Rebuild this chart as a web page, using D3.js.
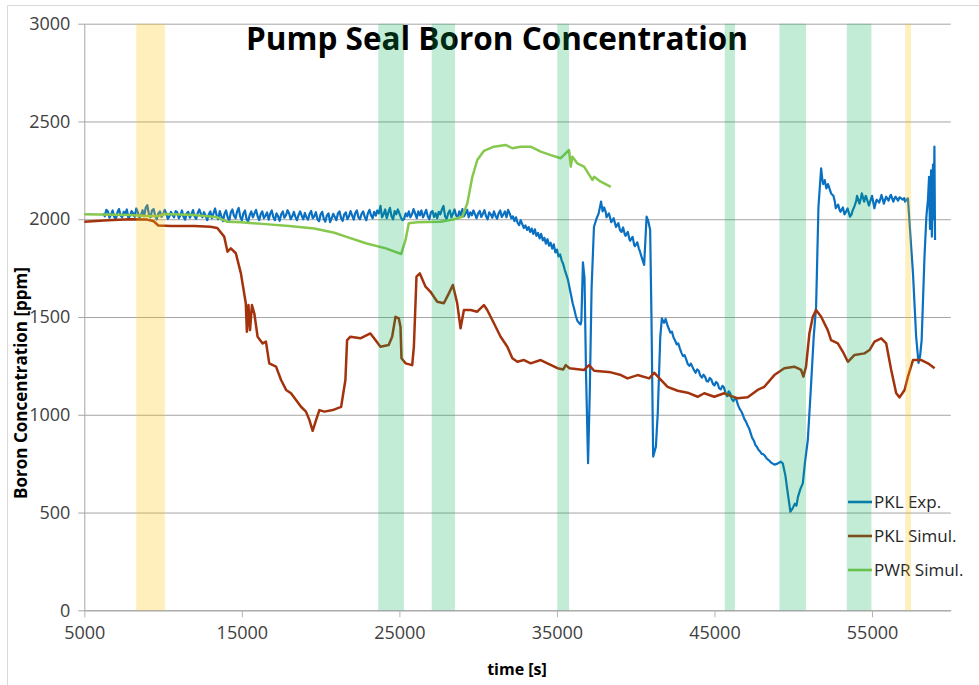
<!DOCTYPE html>
<html>
<head>
<meta charset="utf-8">
<script src="https://cdn.jsdelivr.net/npm/d3@7"></script>
<style>
  html, body { margin: 0; padding: 0; background: #fff; }
  svg { display: block; font-family: "Open Sans", "Liberation Sans", sans-serif; }
</style>
</head>
<body>
<svg id="chart" width="979" height="685"></svg>
<script>
// ---- data ----------------------------------------------------------------
const xTicks = [5000, 15000, 25000, 35000, 45000, 55000];
const yTicks = [0, 500, 1000, 1500, 2000, 2500, 3000];
const seriesNames = ["PKL Exp.", "PKL Simul.", "PWR Simul."];
const seriesColors = ["#0a70c2", "#a2330c", "#86c84e"];

// measurement phases shaded in the background [start, end, kind]
const phaseStart = [8300, 23660, 27050, 35020, 45650, 49120, 53400, 57110];
const phaseEnd   = [10120, 25290, 28530, 35770, 46300, 50810, 54960, 57480];
const phaseKind  = ["y", "g", "g", "g", "g", "g", "g", "y"];

// PKL experiment, pump seal boron concentration [time s, ppm]
const pklExp = [
  [6200,2030],[6300,2015],[6400,2048],[6500,2040],[6600,2008],[6700,2025],[6800,2045],[6900,2012],
  [7000,2000],[7100,2035],[7200,2052],[7300,2020],[7400,2010],[7500,2038],[7600,2028],[7700,2050],
  [7800,2005],[7900,2018],[8000,2042],[8100,2030],[8200,2012],[8300,2055],[8400,2035],[8500,2008],
  [8600,2022],[8700,2046],[8800,2015],[8900,2060],[9000,2072],[9100,2025],[9200,2010],[9300,2045],
  [9400,2052],[9500,2018],[9600,2000],[9700,2030],[9800,2040],[9900,2012],[10000,2025],[10100,2048],
  [10200,2030],[10300,2002],[10400,2015],[10500,2038],[10600,2022],[10700,2010],[10800,2042],[10900,2035],
  [11000,2005],[11100,2020],[11200,2045],[11300,2012],[11400,1998],[11500,2030],[11600,2038],[11700,2008],
  [11800,2025],[11900,2047],[12000,2015],[12100,2002],[12200,2032],[12300,2050],[12400,2028],[12500,2010],
  [12600,2036],[12700,2018],[12800,1995],[12900,2025],[13000,2040],[13100,2005],[13200,2030],[13300,2055],
  [13400,2020],[13500,2000],[13600,2042],[13700,2015],[13800,1990],[13900,2028],[14000,2045],[14100,2010],
  [14200,1992],[14300,2035],[14400,2050],[14500,2018],[14600,2005],[14700,2040],[14800,2058],[14900,2012],
  [15000,1995],[15100,2030],[15200,2045],[15300,2000],[15400,1988],[15500,2022],[15600,2040],[15700,2010],
  [15800,2030],[15900,2048],[16000,2015],[16100,1996],[16200,2026],[16300,2040],[16400,2005],[16500,2018],
  [16600,2035],[16700,1998],[16800,2028],[16900,2045],[17000,2010],[17100,1995],[17200,2030],[17300,2015],
  [17400,1992],[17500,2025],[17600,2040],[17700,2008],[17800,2020],[17900,2046],[18000,2030],[18100,2000],
  [18200,2015],[18300,2038],[18400,2012],[18500,1995],[18600,2022],[18700,2040],[18800,2018],[18900,2000],
  [19000,2032],[19100,2010],[19200,1998],[19300,2028],[19400,2042],[19500,2005],[19600,2015],[19700,2036],
  [19800,2000],[19900,1990],[20000,2025],[20100,2038],[20200,2002],[20300,1988],[20400,2020],[20500,2030],
  [20600,1985],[20700,2005],[20800,2028],[20900,2012],[21000,1995],[21100,2030],[21200,2040],[21300,2005],
  [21400,1992],[21500,2025],[21600,2035],[21700,2000],[21800,2015],[21900,2042],[22000,2020],[22100,1998],
  [22200,2032],[22300,2045],[22400,2010],[22500,2000],[22600,2028],[22700,2040],[22800,2012],[22900,1995],
  [23000,2030],[23100,2048],[23200,2020],[23300,2005],[23400,2038],[23500,2018],[23600,2045],[23700,2030],
  [23800,2068],[23900,2010],[24000,2025],[24100,2050],[24200,2005],[24300,2035],[24400,2058],[24500,2015],
  [24600,2000],[24700,2042],[24800,2025],[24900,2050],[25000,2030],[25100,2008],[25200,1995],[25300,2002],
  [25400,2030],[25500,2015],[25600,2040],[25700,2010],[25800,2025],[25900,2052],[26000,2030],[26100,2005],
  [26200,2040],[26300,2020],[26400,2045],[26500,2010],[26600,2028],[26700,2048],[26800,2015],[26900,2000],
  [27000,2035],[27100,2042],[27200,2012],[27300,2030],[27400,2005],[27500,2038],[27600,2025],[27700,2050],
  [27800,2068],[27900,2015],[28000,2000],[28100,2032],[28200,2045],[28300,2010],[28400,2028],[28500,2050],
  [28600,2020],[28700,2005],[28800,2040],[28900,2022],[29000,2052],[29100,2015],[29200,2030],[29300,2048],
  [29400,2010],[29500,2035],[29600,2020],[29700,2045],[29800,2025],[29900,2005],[30000,2030],[30100,2042],
  [30200,2012],[30300,2028],[30400,2046],[30500,2015],[30600,2000],[30700,2035],[30800,2025],[30900,2008],
  [31000,2040],[31100,2018],[31200,2002],[31300,2030],[31400,2045],[31500,2012],[31600,2025],[31700,2040],
  [31800,2010],[31900,2048],[32000,2030],[32100,2005],[32200,2015],[32300,1990],[32400,2010],[32500,1982],
  [32600,1970],[32700,1995],[32800,1975],[32900,1955],[33000,1968],[33100,1945],[33200,1960],[33300,1935],
  [33400,1952],[33500,1925],[33600,1948],[33700,1915],[33800,1930],[33900,1902],[34000,1925],[34100,1892],
  [34200,1905],[34300,1875],[34400,1898],[34500,1865],[34600,1880],[34700,1850],[34800,1872],[34900,1830],
  [35000,1845],[35100,1810],[35200,1820],[35300,1790],[35400,1770],[35500,1740],[35600,1715],[35700,1690],
  [35800,1650],[35900,1610],[36000,1570],[36100,1540],[36200,1505],[36300,1480],[36400,1470],[36500,1462],
  [36550,1480],[36650,1780],[36750,1700],[36850,1200],[36976,752],[37080,1100],[37200,1650],[37350,1960],
  [37500,2000],[37650,2030],[37800,2090],[37900,2040],[38000,2060],[38100,2035],[38150,2010],[38300,2030],
  [38400,2000],[38450,1985],[38600,2005],[38700,1975],[38750,1960],[38900,1980],[39000,1945],[39100,1935],
  [39200,1958],[39300,1925],[39350,1915],[39500,1935],[39600,1898],[39650,1890],[39800,1910],[39900,1870],
  [39950,1862],[40100,1882],[40200,1850],[40250,1840],[40400,1800],[40535,1766],[40690,2013],[40800,1990],
  [40917,1945],[41000,1500],[41108,786],[41280,837],[41400,1009],[41560,1400],[41660,1493],[41800,1470],
  [41900,1490],[42022,1455],[42100,1440],[42200,1420],[42300,1425],[42400,1395],[42500,1380],[42600,1360],
  [42700,1365],[42800,1340],[42900,1318],[43000,1300],[43100,1305],[43200,1285],[43300,1260],[43400,1250],
  [43500,1262],[43600,1245],[43700,1228],[43800,1215],[43900,1232],[44000,1225],[44100,1200],[44200,1190],
  [44300,1205],[44400,1195],[44500,1172],[44600,1170],[44700,1188],[44800,1180],[44900,1158],[45000,1150],
  [45100,1168],[45200,1160],[45300,1135],[45400,1130],[45500,1148],[45600,1140],[45700,1112],[45800,1095],
  [45900,1120],[46000,1110],[46100,1080],[46200,1070],[46300,1085],[46400,1075],[46500,1048],[46600,1030],
  [46700,1018],[46800,1000],[46900,978],[47000,965],[47100,945],[47200,930],[47300,905],[47400,880],
  [47500,868],[47600,845],[47700,835],[47800,820],[47900,812],[48000,800],[48100,798],[48200,790],
  [48300,778],[48400,770],[48500,764],[48600,755],[48700,750],[48800,745],[49000,750],[49200,760],
  [49333,752],[49500,690],[49650,600],[49818,504],[49950,520],[50100,545],[50200,535],[50300,580],
  [50450,620],[50605,649],[50750,760],[50924,871],[51100,1110],[51300,1400],[51450,1553],[51600,2064],
  [51770,2260],[51850,2200],[51900,2180],[52000,2200],[52100,2158],[52200,2180],[52250,2170],[52400,2132],
  [52550,2120],[52650,2085],[52700,2056],[52850,2075],[52950,2045],[53000,2038],[53150,2060],[53250,2025],
  [53300,2030],[53450,2055],[53600,2013],[53700,2025],[53750,2040],[53900,2070],[54000,2095],[54050,2120],
  [54200,2080],[54300,2110],[54350,2132],[54500,2090],[54600,2120],[54650,2110],[54800,2070],[54900,2095],
  [55000,2120],[55150,2056],[55250,2090],[55300,2100],[55450,2085],[55550,2110],[55600,2124],[55750,2080],
  [55850,2105],[55900,2115],[56050,2095],[56150,2118],[56200,2125],[56350,2090],[56450,2110],[56500,2115],
  [56650,2095],[56750,2112],[56800,2110],[56950,2100],[57050,2108],[57100,2090],[57280,2107],[57450,1900],
  [57600,1723],[57800,1400],[57950,1265],[58050,1300],[58150,1382],[58330,1808],[58450,2013],[58550,2100],
  [58620,2217],[58680,1950],[58750,2250],[58800,1911],[58870,2280],[58920,2000],[58960,2371],[59000,1894]
];

// PKL simulation
const pklSim = [
  [5000,1987],[6500,1995],[7900,2000],[9000,1998],[9400,1990],[9700,1968],[10500,1965],[12000,1965],
  [13000,1962],[13440,1955],[13880,1911],[14090,1834],[14300,1851],[14620,1826],[14940,1723],[15250,1570],
  [15320,1425],[15420,1561],[15520,1433],[15640,1561],[15790,1519],[16000,1399],[16320,1365],[16530,1374],
  [16740,1263],[17170,1246],[17490,1178],[17810,1127],[18120,1110],[18440,1075],[18755,1041],[19070,1016],
  [19290,973],[19495,918],[19710,973],[19920,1024],[20240,1016],[20766,1024],[21300,1040],[21573,1178],
  [21680,1382],[21890,1399],[22525,1391],[23160,1416],[23480,1382],[23796,1348],[24320,1357],[24540,1399],
  [24752,1501],[24960,1493],[25070,1450],[25133,1289],[25390,1263],[25813,1254],[25920,1348],[26085,1706],
  [26297,1723],[26660,1655],[26977,1629],[27400,1578],[27822,1570],[28140,1621],[28394,1664],[28670,1570],
  [28883,1442],[29095,1536],[29519,1536],[29940,1527],[30364,1561],[30576,1536],[31000,1468],[31425,1399],
  [31852,1348],[32170,1289],[32488,1271],[32910,1280],[33333,1263],[33970,1280],[34395,1263],[35032,1238],
  [35400,1232],[35560,1254],[35800,1238],[36720,1229],[37040,1254],[37360,1225],[38420,1217],[39060,1203],
  [39480,1186],[40120,1203],[40854,1186],[41172,1215],[41600,1178],[42022,1143],[42660,1123],[43295,1113],
  [43930,1092],[44350,1110],[44986,1092],[45620,1110],[46047,1096],[46473,1084],[47110,1089],[47740,1127],
  [48164,1143],[48800,1203],[49435,1238],[50070,1246],[50500,1229],[50644,1195],[50810,1246],[51025,1416],
  [51240,1501],[51450,1536],[51770,1501],[52190,1433],[52400,1382],[52830,1365],[53150,1322],[53467,1271],
  [53890,1306],[54520,1314],[54840,1331],[55158,1374],[55583,1391],[55900,1365],[56218,1229],[56535,1110],
  [56748,1089],[57065,1127],[57280,1195],[57600,1280],[58130,1280],[58550,1263],[58972,1238]
];

// PWR simulation
const pwrSim = [
  [5000,2025],[7900,2022],[8900,2016],[9700,2016],[10100,2027],[12000,2022],[13440,2010],[14080,1987],
  [14940,1984],[16500,1975],[18000,1965],[19600,1953],[20875,1931],[21600,1911],[22870,1877],[24140,1851],
  [25113,1822],[25390,1894],[25597,1979],[26130,1984],[27612,1987],[28460,2000],[28990,2013],[29310,2081],
  [29630,2217],[29945,2303],[30370,2350],[31000,2371],[31745,2380],[32170,2363],[32700,2371],[33333,2371],
  [33970,2346],[34610,2328],[35240,2312],[35770,2354],[35880,2269],[35980,2320],[36290,2286],[36720,2269],
  [37250,2201],[37360,2217],[37780,2192],[38420,2166]
];
const seriesData = [pklExp, pklSim, pwrSim];

// ---- layout --------------------------------------------------------------
const svg = d3.select("#chart");
const x = d3.scaleLinear().domain([5000, 60000]).range([84.3, 950.8]);
const y = d3.scaleLinear().domain([0, 3000]).range([610.3, 23.7]);
const tickColor = "#404040";

// outer frame (left and top edges visible)
svg.append("line").attr("x1", 7.5).attr("x2", 7.5).attr("y1", 5.5).attr("y2", 685)
  .attr("stroke", "#d9d9d9");
svg.append("line").attr("x1", 7.5).attr("x2", 979).attr("y1", 5.5).attr("y2", 5.5)
  .attr("stroke", "#d9d9d9");

// horizontal gridlines with y axis
const yAxis = d3.axisLeft(y).tickValues(yTicks).tickFormat(d3.format("d"))
  .tickSize(-(x.range()[1] - x.range()[0])).tickSizeOuter(0).tickPadding(14);
const gy = svg.append("g").attr("transform", `translate(${x.range()[0]},0)`).call(yAxis);
gy.select(".domain").attr("stroke", "#a6a6a6");
gy.selectAll(".tick line").attr("stroke", "#a6a6a6").attr("x1", -6);
gy.selectAll(".tick text").attr("font-size", 18).attr("fill", tickColor)
  .attr("font-family", "'Open Sans', sans-serif");

// vertical gridlines with x axis
const xAxis = d3.axisBottom(x).tickValues(xTicks).tickFormat(d3.format("d"))
  .tickSize(-(y.range()[0] - y.range()[1])).tickSizeOuter(0).tickPadding(16);
const gx = svg.append("g").attr("transform", `translate(0,${y.range()[0]})`).call(xAxis);
gx.select(".domain").attr("stroke", "#a6a6a6");
gx.selectAll(".tick line").attr("stroke", "#b4b4b4").attr("y2", 7);
gx.selectAll(".tick text").attr("font-size", 18).attr("fill", tickColor)
  .attr("font-family", "'Open Sans', sans-serif");

// series lines
const line = d3.line().x(d => x(d[0])).y(d => y(d[1]));
seriesData.forEach((data, i) => {
  svg.append("path").datum(data)
    .attr("d", line)
    .attr("fill", "none")
    .attr("stroke", seriesColors[i])
    .attr("stroke-width", i === 0 ? 2.2 : 2.5)
    .attr("stroke-linejoin", "round");
});

// legend
const legend = svg.append("g").attr("transform", "translate(848,502)");
seriesNames.forEach((name, i) => {
  const g = legend.append("g").attr("transform", `translate(0,${i * 34})`);
  g.append("line").attr("x1", 0).attr("x2", 24).attr("y1", 0).attr("y2", 0)
    .attr("stroke", seriesColors[i]).attr("stroke-width", 2.6);
  g.append("text").attr("x", 26).attr("y", 0).attr("dy", "0.35em")
    .attr("font-size", 17).attr("fill", "#262626").text(name);
});

// titles
svg.append("text").attr("x", 497).attr("y", 50)
  .attr("text-anchor", "middle").attr("font-size", 31.5).attr("font-weight", "bold")
  .attr("fill", "#000").text("Pump Seal Boron Concentration");

svg.append("text").attr("x", 517).attr("y", 675)
  .attr("text-anchor", "middle").attr("font-size", 16).attr("font-weight", "bold")
  .attr("fill", "#000").text("time [s]");

svg.append("text").attr("transform", "translate(27,383) rotate(-90)")
  .attr("text-anchor", "middle").attr("font-size", 17).attr("font-weight", "bold")
  .attr("fill", "#000").text("Boron Concentration [ppm]");

// translucent phase bands laid over everything
const phaseFill = { g: "rgba(0,176,80,0.235)", y: "rgba(255,192,0,0.26)" };
svg.append("g").selectAll("rect")
  .data(phaseStart.map((s, i) => ({ s, e: phaseEnd[i], k: phaseKind[i] })))
  .join("rect")
  .attr("x", d => x(d.s))
  .attr("width", d => x(d.e) - x(d.s))
  .attr("y", y(3000))
  .attr("height", y(0) - y(3000))
  .attr("fill", d => phaseFill[d.k]);
</script>
</body>
</html>
